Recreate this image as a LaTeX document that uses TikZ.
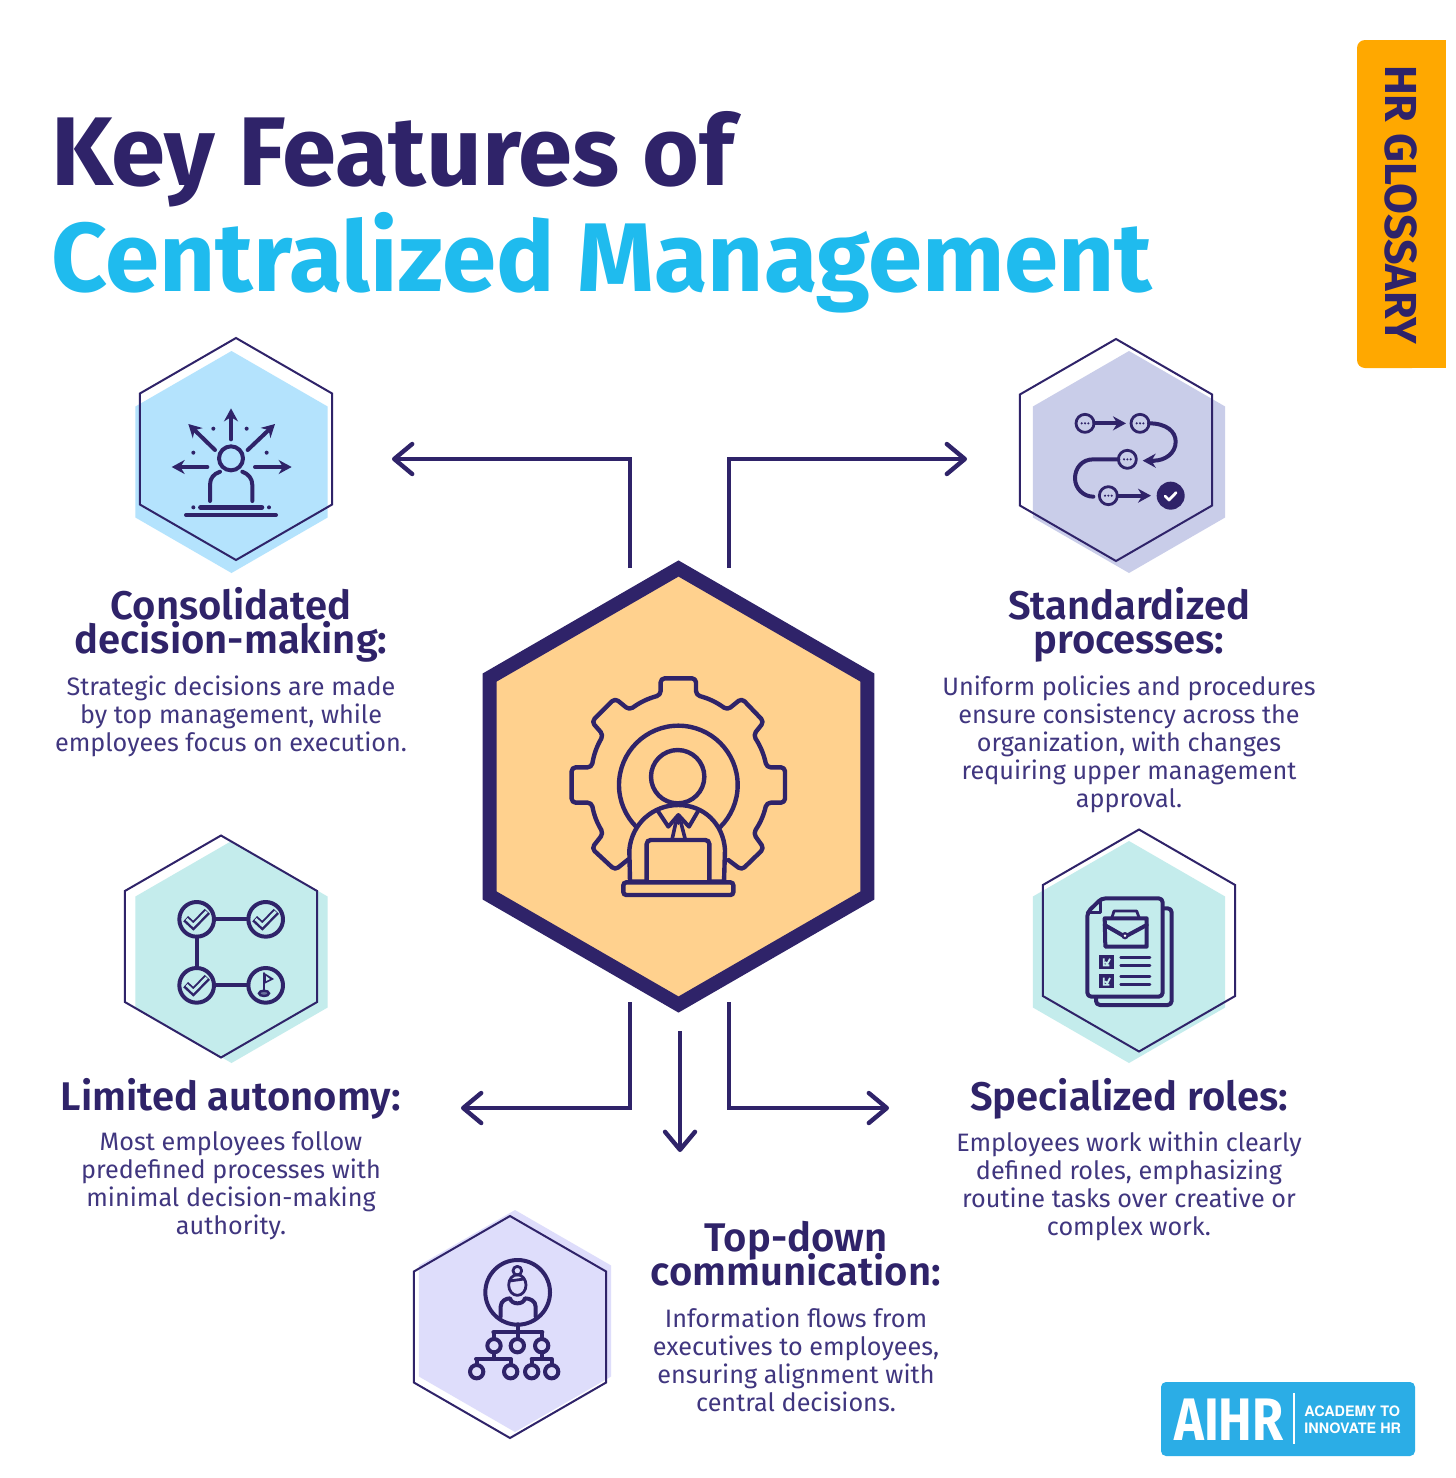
\documentclass[tikz,border=0pt]{standalone}
\usepackage{fontspec}
\usetikzlibrary{arrows.meta,shapes.geometric}
\setmainfont{Fira Sans}
\newfontfamily\headf{Fira Sans SemiBold}
\newfontfamily\logofont{TeX Gyre Heros}
\newcommand\headsetting{\headf\fontsize{20}{17}\selectfont\lineskiplimit -100pt\relax}
\newcommand\bodysetting{\fontsize{12.6}{14}\selectfont\lineskiplimit -100pt\relax}
\definecolor{ink}{HTML}{2F2369}
\definecolor{bodyink}{HTML}{40367F}
\definecolor{sky}{HTML}{1FBBEE}
\definecolor{tab}{HTML}{FFA800}
\definecolor{logo}{HTML}{2BADE6}
\definecolor{fblue}{HTML}{B4E3FD}
\definecolor{fperi}{HTML}{C9CDE9}
\definecolor{fteal}{HTML}{C4ECEC}
\definecolor{flav}{HTML}{DEDDFB}
\definecolor{fgold}{HTML}{FFD18E}
\tikzset{
 hexshape/.style={regular polygon,regular polygon sides=6,regular polygon rotate=30,minimum size=111pt,inner sep=0pt,outer sep=0pt},
 hexfill/.style={hexshape,draw=none},
 hexline/.style={hexshape,draw=ink,line width=1pt},
 bighex/.style={regular polygon,regular polygon sides=6,regular polygon rotate=30,minimum size=218pt,inner sep=0pt,outer sep=0pt,draw=ink,fill=fgold,line width=7pt,miter limit=10},
 flow/.style={draw=ink,line width=1.8pt,-{Straight Barb[length=9pt,width=15pt,line width=2.2pt,round]}},
 head/.style={font=\headsetting,text=ink,align=center,inner sep=0pt,anchor=north},
 bodytext/.style={font=\bodysetting,text=bodyink,align=center,inner sep=0pt,anchor=north},
 zoomed/.style={x=0.16667pt,y=-0.16667pt},
 ic/.style={draw=ink,line width=2pt,line cap=round,line join=round},
 icthin/.style={draw=ink,line width=1.4pt,line cap=round,line join=round},
 tipped/.style={-{Stealth[length=6.5pt,width=7pt]}}
}
\begin{document}
\begin{tikzpicture}[x=0.5pt,y=-0.5pt]
\useasboundingbox[fill=white] (0,0) rectangle (1456,1478);

% tab
\fill[tab,rounded corners=4pt] (1357,40) rectangle (1420,368);
\fill[tab] (1400,40) rectangle (1446,368);
\node[rotate=-90,font=\fontsize{22.4}{22.4}\selectfont\bfseries,text=ink,inner sep=0pt] (tablabel) at (1401,204.5) {HR GLOSSARY};

% title
\node[anchor=base west,inner sep=0pt,font=\fontsize{48.8}{51}\selectfont\bfseries,text=ink] (title1) at (51,185) {Key Features of};
\node[anchor=base west,inner sep=0pt,font=\fontsize{48.8}{51}\selectfont\bfseries,text=sky] (title2) at (51,291) {Centralized Management};

% central hexagon
\node[bighex] (hub) at (678.5,786.5) {};

% connector ends
\coordinate (s1) at (630,568); \coordinate (c1) at (630,459); \coordinate (e1) at (392,459);
\coordinate (s2) at (729,568); \coordinate (c2) at (729,459); \coordinate (e2) at (967,459);
\coordinate (s3) at (630,1002); \coordinate (c3) at (630,1108); \coordinate (e3) at (461,1108);
\coordinate (s4) at (729,1002); \coordinate (c4) at (729,1108); \coordinate (e4) at (889,1108);
\coordinate (s5) at (680,1031); \coordinate (e5) at (680,1152);
\draw[flow] (s1) -- (c1) -- (e1);
\draw[flow] (s2) -- (c2) -- (e2);
\draw[flow] (s3) -- (c3) -- (e3);
\draw[flow] (s4) -- (c4) -- (e4);
\draw[flow] (s5) -- (e5);

% small hexagons
\node[hexfill,fill=fblue] (h1f) at (231.5,462) {};
\node[hexline] (h1) at (236,449) {};
\node[hexfill,fill=fperi] (h2f) at (1129,462) {};
\node[hexline] (h2) at (1116,450) {};
\node[hexfill,fill=fteal] (h3f) at (231.5,952) {};
\node[hexline] (h3) at (221,946.5) {};
\node[hexfill,fill=fteal] (h4f) at (1129,952) {};
\node[hexline] (h4) at (1139,940.5) {};
\node[hexfill,fill=flav] (h5f) at (515,1321) {};
\node[hexline] (h5) at (510,1327) {};

% icon 1
\begin{scope}[shift={(120,330)},zoomed]
\draw[ic] (333,385) circle (36);
\foreach \a/\b/\c/\d in {333/328/333/235, 262/411/155/411, 405/411/515/411, 285/360/205/282, 383/360/465/282}
  \draw[ic,tipped] (\a,\b) -- (\c,\d);
\foreach \a/\b in {280/296,380/296,220/368,440/368,220/532,447/532}
  \fill[ink] (\a,\b) circle (6);
\draw[ic] (300,425) .. controls (280,432) and (270,445) .. (270,465) -- (270,513);
\draw[ic] (367,425) .. controls (385,432) and (397,445) .. (397,465) -- (397,513);
\draw[ic,line width=2.6pt] (242,532) -- (425,532);
\draw[ic] (198,555) -- (468,555);
\end{scope}

% icon 2
\begin{scope}[shift={(1010,330)},zoomed]
\foreach \a/\b in {225/280,390/280,352/388,295/497}{
  \draw[icthin] (\a,\b) circle (27);
  \foreach \k in {-10,0,10} \fill[ink] (\a+\k,\b) circle (3.5);
}
\draw[ic,tipped] (253,280) -- (348,280);
\draw[ic] (417,280) .. controls (470,280) and (497,305) .. (497,335) .. controls (497,370) and (465,392) .. (430,392);
\draw[ic,tipped] (430,392) -- (398,392);
\draw[ic] (325,388) -- (250,388) .. controls (215,388) and (195,415) .. (195,445) .. controls (195,475) and (220,500) .. (250,500);
\draw[ic,tipped] (323,497) -- (423,497);
\fill[ink] (482,497) circle (42);
\draw[white,line width=1.4pt,line cap=round,line join=round] (465,498) -- (477,510) -- (498,488);
\end{scope}

% central icon
\begin{scope}[shift={(540,650)},zoomed]
\draw[ink,line width=2.2pt,line join=round,line cap=round,rounded corners=2pt]
  (565,630) -- (605,660) -- (672,595) -- (640,550) to[bend right=10] (680,458) -- (735,458) -- (735,352) -- (680,352) to[bend right=10] (640,255) -- (672,215) -- (605,145) -- (562,180) to[bend right=10] (468,135) -- (468,85) -- (362,85) -- (362,135) to[bend right=10] (268,180) -- (225,145) -- (155,215) -- (190,255) to[bend right=10] (155,352) -- (95,352) -- (95,458) -- (155,458) to[bend right=10] (190,550) -- (155,595) -- (225,660) -- (265,628);
\draw[ink,line width=2.2pt] (415,405) circle (178);
\fill[fgold,draw=ink,line width=2.2pt,line join=round] (270,695) -- (268,600) .. controls (275,520) and (340,465) .. (415,465) .. controls (490,465) and (550,520) .. (555,600) -- (552,695) -- cycle;
\draw[ink,line width=2.2pt,fill=fgold] (413,380) circle (80);
\draw[ink,line width=2pt,line join=round] (353,482) -- (385,530) -- (415,495) -- (447,530) -- (475,482);
\fill[ink] (415,490) -- (428,510) -- (415,525) -- (402,510) -- cycle;
\draw[ink,line width=1.8pt] (408,515) -- (397,565) (422,515) -- (435,565);
\draw[ink,line width=2.2pt,fill=fgold,rounded corners=2pt] (320,697) -- (320,570) -- (508,570) -- (508,697);
\draw[ink,line width=2.2pt,fill=fgold,rounded corners=1.5pt] (250,697) rectangle (580,735);
\end{scope}

% icon 3
\begin{scope}[shift={(110,830)},zoomed]
\foreach \a/\b in {260/268,467/268,260/466,467/466} \draw[ic] (\a,\b) circle (52);
\draw[ic] (312,268) -- (415,268) (260,320) -- (260,414) (312,466) -- (415,466);
\foreach \a/\b in {260/268,467/268,260/466}{
  \draw[ink,line width=3.6pt,line join=miter,line cap=butt] (\a-33,\b-2) -- (\a-10,\b+19) -- (\a+32,\b-24);
  \draw[fteal,line width=1.4pt,line join=miter,line cap=butt] (\a-30,\b-1) -- (\a-10,\b+18) -- (\a+30,\b-23);
}
\draw[icthin] (462,490) -- (462,430);
\fill[ink] (462,428) -- (492,447) -- (462,462) -- cycle;
\fill[fteal] (468,438) -- (480,447) -- (468,453) -- cycle;
\draw[ink,line width=1.2pt,fill=ink!60!fteal] (462,490) ellipse (15 and 8);
\end{scope}

% icon 4
\begin{scope}[shift={(1030,825)},zoomed]
\draw[ic,rounded corners=2pt] (400,250) -- (425,250) -- (425,540) -- (198,540) -- (198,517);
\draw[ic,rounded corners=2pt] (172,262) -- (215,220) -- (398,220) -- (398,515) -- (172,515) -- cycle;
\draw[icthin] (172,262) -- (212,262) -- (212,222);
\draw[ic] (224,280) -- (350,280) -- (350,365) -- (226,365) -- cycle;
\draw[ic] (224,300) -- (285,335) -- (350,300);
\draw[icthin] (245,280) -- (252,258) -- (320,258) -- (328,280);
\fill[ink] (285,332) circle (11);
\fill[white] (285,332) circle (4);
\foreach \b in {390,448}{
  \fill[ink] (207,\b) rectangle (251,\b+42);
  \draw[fteal,line width=.9pt] (221,\b+10) -- (221,\b+31) -- (238,\b+31) (225,\b+21) -- (232,\b+26) -- (240,\b+11);
}
\foreach \b in {397,421,455,478} \draw[icthin] (272,\b) -- (360,\b);
\end{scope}

% icon 5
\begin{scope}[shift={(400,1205)},zoomed]
\draw[ic] (353,262) circle (97);
\draw[icthin] (352,240) ellipse (26 and 31);
\draw[icthin] (352,197) circle (13);
\draw[icthin] (328,228) -- (372,222);
\draw[ic] (302,335) -- (302,305) .. controls (302,288) and (318,280) .. (330,280) .. controls (335,300) and (370,300) .. (375,280) .. controls (390,280) and (407,288) .. (407,305) -- (407,335);
\draw[ic] (353,358) -- (353,402) (280,382) -- (427,382) (282,382) -- (282,402) (425,382) -- (425,402);
\draw[ic] (282,442) -- (282,462) (228,462) -- (333,462) (230,462) -- (230,480) (332,462) -- (332,480);
\draw[ic] (425,442) -- (425,462) (395,462) -- (455,462) (395,462) -- (395,480) (455,462) -- (455,480);
\foreach \a/\b in {282/422,352/422,425/422,230/500,332/500,395/500,455/500} \draw[ic] (\a,\b) circle (20);
\end{scope}

% texts
\node[head] (t1) at (231,587) {Consolidated\\decision-making:};
\node[bodytext] (b1) at (231,675) {Strategic decisions are made\\by top management, while\\employees focus on execution.};
\node[head] (t2) at (1129,587) {Standardized\\processes:};
\node[bodytext] (b2) at (1129,675) {Uniform policies and procedures\\ensure consistency across the\\organization, with changes\\requiring upper management\\approval.};
\node[head] (t3) at (231,1078) {Limited autonomy:};
\node[bodytext] (b3) at (231,1131) {Most employees follow\\predefined processes with\\minimal decision-making\\authority.};
\node[head] (t4) at (1129,1078) {Specialized roles:};
\node[bodytext] (b4) at (1129,1131) {Employees work within clearly\\defined roles, emphasizing\\routine tasks over creative or\\complex work.};
\node[head] (t5) at (796,1221) {Top-down\\communication:};
\node[bodytext] (b5) at (796,1307) {Information flows from\\executives to employees,\\ensuring alignment with\\central decisions.};

% logo
\fill[logo,rounded corners=2.5pt] (1161,1382) rectangle (1415,1456);
\node[anchor=base west,inner sep=0pt,text=white,font=\fontsize{30}{30}\selectfont\bfseries,xscale=0.84,transform shape] (aihr) at (1174,1440) {AIHR};
\draw[white,line width=.8pt] (1294,1393) -- (1294,1444);
\node[anchor=base west,inner sep=0pt,text=white,font=\logofont\bfseries\fontsize{7.2}{8.5}\selectfont] (tag1) at (1304,1416) {ACADEMY TO};
\node[anchor=base west,inner sep=0pt,text=white,font=\logofont\bfseries\fontsize{7.2}{8.5}\selectfont] (tag2) at (1304,1433) {INNOVATE HR};
\end{tikzpicture}
\end{document}
